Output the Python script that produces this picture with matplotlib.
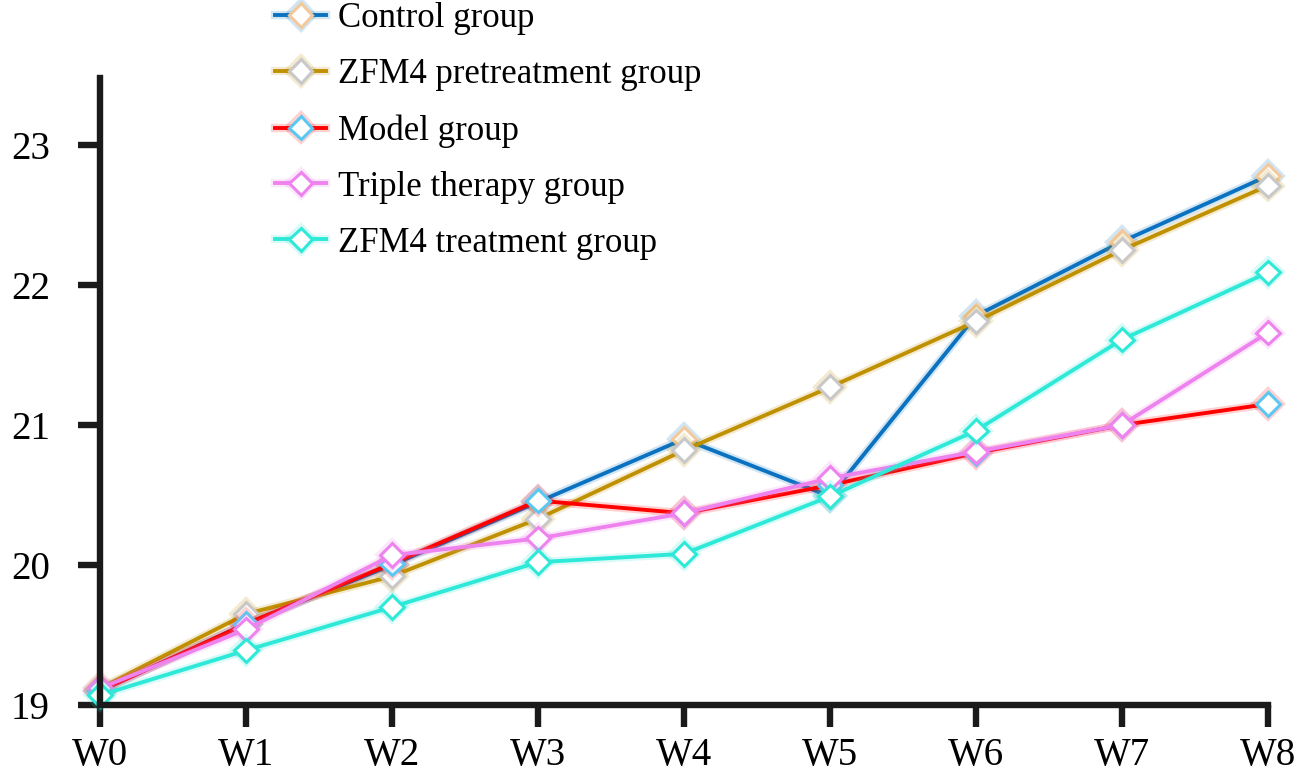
import matplotlib
matplotlib.use('Agg')
import matplotlib.pyplot as plt
import matplotlib.patheffects as pe

plt.rcParams['font.family'] = ['Liberation Serif', 'DejaVu Serif']

weeks = ['W0', 'W1', 'W2', 'W3', 'W4', 'W5', 'W6', 'W7', 'W8']
groups = ['Control group', 'ZFM4 pretreatment group', 'Model group',
          'Triple therapy group', 'ZFM4 treatment group']

control = [19.10, 19.58, 20.00, 20.45, 20.90, 20.49, 21.78, 22.31, 22.78]
pretreat = [19.12, 19.65, 19.92, 20.33, 20.82, 21.27, 21.74, 22.25, 22.71]
model = [19.10, 19.58, 20.01, 20.46, 20.37, 20.57, 20.80, 21.00, 21.15]
triple = [19.12, 19.54, 20.07, 20.19, 20.37, 20.62, 20.81, 21.00, 21.66]
treat = [19.07, 19.39, 19.70, 20.02, 20.08, 20.49, 20.96, 21.61, 22.09]

series = [control, pretreat, model, triple, treat]
line_colors = ['#0a72c0', '#bf9000', '#ff0000', '#ee82ee', '#2ee8d8']
marker_colors = ['#f3c99c', '#c8c8c8', '#5ac8f2', '#ee82ee', '#2ee8d8']

fig = plt.figure(figsize=(12.99, 7.79), dpi=100)
ax = fig.add_axes([0.077, 0.095, 0.899, 0.805])

x = list(range(len(weeks)))
for vals, lc, mc, name in zip(series, line_colors, marker_colors, groups):
    ax.plot(x, vals, color=lc, lw=2.8, marker='D', ms=12, mfc='white', mec=mc,
            mew=2.2, label=name, clip_on=False,
            path_effects=[pe.Stroke(linewidth=6, foreground=lc, alpha=0.18), pe.Normal()])

ax.set_xlim(0, 8)
ax.set_ylim(19, 23.48)
ax.set_xticks(x)
ax.set_xticklabels(weeks)
ax.set_yticks([19, 20, 21, 22, 23])
for s in ['top', 'right']:
    ax.spines[s].set_visible(False)
for s in ['left', 'bottom']:
    ax.spines[s].set_linewidth(4.6)
    ax.spines[s].set_color('#1a1a1a')
ax.tick_params(axis='both', width=4.6, color='#1a1a1a', labelsize=28)
ax.tick_params(axis='x', length=16, pad=7)
ax.tick_params(axis='y', length=16, pad=20)

ax.legend(loc='upper left', bbox_to_anchor=(0.212, 0.997), bbox_transform=fig.transFigure,
          frameon=False, fontsize=25, handlelength=1.45, handletextpad=0.35,
          labelspacing=0.66, borderpad=0, borderaxespad=0)

fig.savefig('out.png', dpi=100, facecolor='white')
